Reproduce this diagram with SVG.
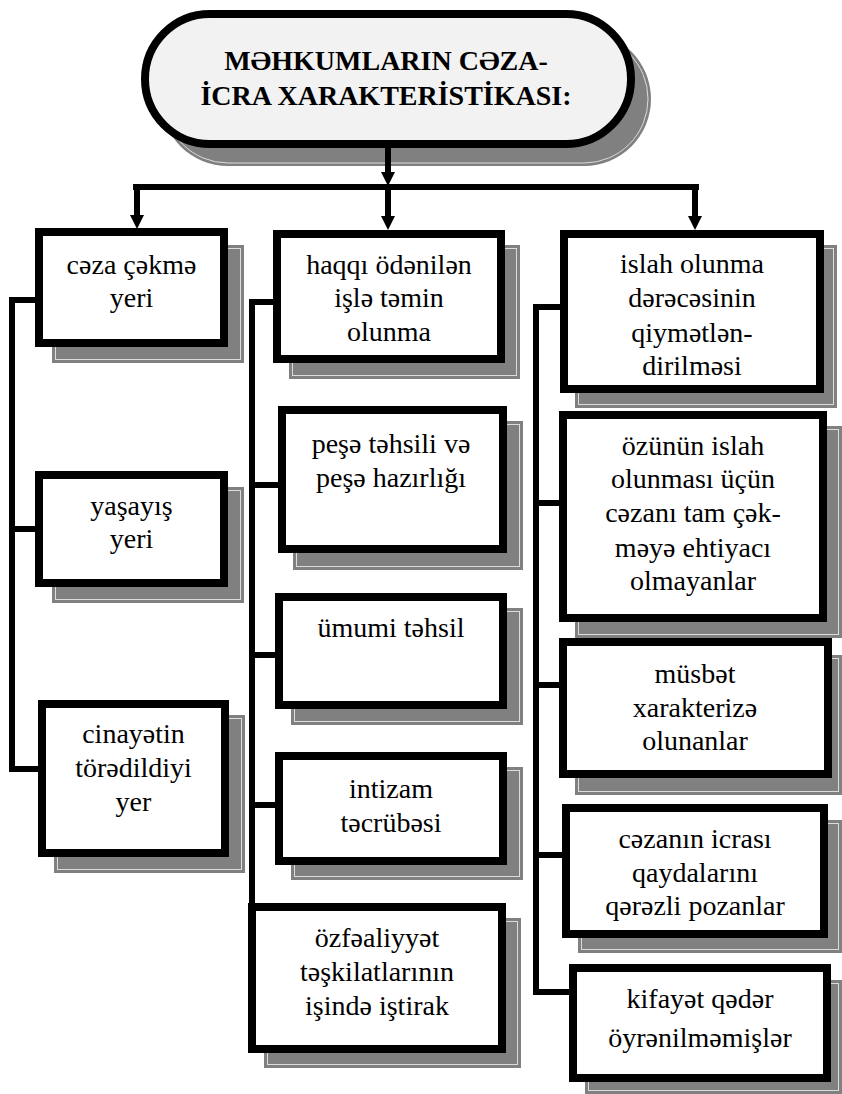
<svg xmlns="http://www.w3.org/2000/svg" width="842" height="1094" viewBox="0 0 842 1094">
<defs>
<style>
.box{fill:#fff;stroke:#000;stroke-width:8}
.sh{fill:#808080}
.shl{fill:none;stroke:#dcdcdc;stroke-width:1}
.t{font-family:"Liberation Serif","DejaVu Serif",serif;font-size:28px;text-anchor:middle;fill:#000}
.tt{font-family:"Liberation Serif","DejaVu Serif",serif;font-size:28px;font-weight:bold;text-anchor:middle;fill:#000}
.c{stroke:#000;stroke-width:6;fill:none}
</style>
<marker id="ah" viewBox="0 0 14 14" refX="2" refY="7" markerWidth="14" markerHeight="14" markerUnits="userSpaceOnUse" orient="auto">
<path d="M0,0 L14,7 L0,14 z" fill="#000"/>
</marker>
</defs>
<rect width="842" height="1094" fill="#fff"/>

<g id="title">
<rect x="161" y="32" width="490" height="134" rx="67" class="sh"/>
<rect x="164" y="35" width="484" height="128" rx="64" class="shl"/>
<rect x="145" y="14" width="486" height="130" rx="65" fill="#f2f2f2" stroke="#000" stroke-width="8"/>
<text class="tt" x="386" y="70">MƏHKUMLARIN CƏZA-</text>
<text class="tt" x="386" y="105">İCRA XARAKTERİSTİKASI:</text>
</g>

<g id="connectors">
<line class="c" x1="388" y1="148" x2="388" y2="174" marker-end="url(#ah)"/>
<line class="c" x1="133" y1="187" x2="699" y2="187"/>
<line class="c" x1="137" y1="187" x2="137" y2="217" marker-end="url(#ah)"/>
<line class="c" x1="388" y1="187" x2="388" y2="218" marker-end="url(#ah)"/>
<line class="c" x1="695" y1="187" x2="695" y2="218" marker-end="url(#ah)"/>
<path class="c" d="M37,300 H12 V769 H40 M12,529 H37"/>
<path class="c" d="M275,302 H252 V905 M252,485 H280 M252,655 H277 M252,805 H277"/>
<path class="c" d="M562,307 H536 V992 H571 M536,503 H561 M536,685 H561 M536,855 H564"/>
</g>

<g id="n-caza-cekme-yeri">
<rect x="52" y="245" width="192" height="118" class="sh"/><rect x="55.5" y="248.5" width="185" height="111" class="shl"/>
<rect x="39" y="232" width="185" height="111" class="box"/>
<text class="t" x="131.5" y="274">cəza çəkmə</text>
<text class="t" x="131.5" y="307">yeri</text>
</g>

<g id="n-yasayis-yeri">
<rect x="52" y="487" width="192" height="116" class="sh"/><rect x="55.5" y="490.5" width="185" height="109" class="shl"/>
<rect x="39" y="475" width="185" height="108" class="box"/>
<text class="t" x="131.5" y="515">yaşayış</text>
<text class="t" x="131.5" y="548">yeri</text>
</g>

<g id="n-cinayetin">
<rect x="54" y="715" width="191" height="158" class="sh"/><rect x="57.5" y="718.5" width="184" height="151" class="shl"/>
<rect x="42" y="704" width="183" height="149" class="box"/>
<text class="t" x="133.5" y="743">cinayətin</text>
<text class="t" x="133.5" y="777">törədildiyi</text>
<text class="t" x="133.5" y="811">yer</text>
</g>

<g id="n-haqqi">
<rect x="289" y="245" width="231" height="134" class="sh"/><rect x="292.5" y="248.5" width="224" height="127" class="shl"/>
<rect x="277" y="234" width="224" height="125" class="box"/>
<text class="t" x="389" y="274">haqqı ödənilən</text>
<text class="t" x="389" y="307">işlə təmin</text>
<text class="t" x="389" y="341">olunma</text>
</g>

<g id="n-pese">
<rect x="293" y="421" width="230" height="149" class="sh"/><rect x="296.5" y="424.5" width="223" height="142" class="shl"/>
<rect x="282" y="410" width="221" height="139" class="box"/>
<text class="t" x="391" y="453">peşə təhsili və</text>
<text class="t" x="391" y="487">peşə hazırlığı</text>
</g>

<g id="n-umumi">
<rect x="291" y="608" width="232" height="117" class="sh"/><rect x="294.5" y="611.5" width="225" height="110" class="shl"/>
<rect x="279" y="597" width="224" height="108" class="box"/>
<text class="t" x="391" y="637">ümumi təhsil</text>
</g>

<g id="n-intizam">
<rect x="291" y="767" width="232" height="113" class="sh"/><rect x="294.5" y="770.5" width="225" height="106" class="shl"/>
<rect x="279" y="756" width="224" height="105" class="box"/>
<text class="t" x="391" y="798">intizam</text>
<text class="t" x="391" y="832">təcrübəsi</text>
</g>

<g id="n-ozfealiyyet">
<rect x="264" y="918" width="257" height="150" class="sh"/><rect x="267.5" y="921.5" width="250" height="143" class="shl"/>
<rect x="252" y="907" width="250" height="142" class="box"/>
<text class="t" x="377" y="947">özfəaliyyət</text>
<text class="t" x="377" y="981">təşkilatlarının</text>
<text class="t" x="377" y="1015">işində iştirak</text>
</g>

<g id="n-islah">
<rect x="575" y="245" width="262" height="163" class="sh"/><rect x="578.5" y="248.5" width="255" height="156" class="shl"/>
<rect x="564" y="234" width="256" height="155" class="box"/>
<text class="t" x="692" y="273">islah olunma</text>
<text class="t" x="692" y="307">dərəcəsinin</text>
<text class="t" x="692" y="342">qiymətlən-</text>
<text class="t" x="692" y="375">dirilməsi</text>
</g>

<g id="n-ozunun">
<rect x="575" y="426" width="267" height="212" class="sh"/><rect x="578.5" y="429.5" width="260" height="205" class="shl"/>
<rect x="563" y="415" width="260" height="203" class="box"/>
<text class="t" x="693" y="455">özünün islah</text>
<text class="t" x="693" y="488">olunması üçün</text>
<text class="t" x="693" y="522">cəzanı tam çək-</text>
<text class="t" x="693" y="557">məyə ehtiyacı</text>
<text class="t" x="693" y="590">olmayanlar</text>
</g>

<g id="n-musbet">
<rect x="575" y="655" width="267" height="140" class="sh"/><rect x="578.5" y="658.5" width="260" height="133" class="shl"/>
<rect x="563" y="642" width="265" height="132" class="box"/>
<text class="t" x="695" y="683">müsbət</text>
<text class="t" x="695" y="717">xarakterizə</text>
<text class="t" x="695" y="750">olunanlar</text>
</g>

<g id="n-cezanin">
<rect x="578" y="820" width="264" height="133" class="sh"/><rect x="581.5" y="823.5" width="257" height="126" class="shl"/>
<rect x="566" y="808" width="258" height="126" class="box"/>
<text class="t" x="695" y="848">cəzanın icrası</text>
<text class="t" x="695" y="882">qaydalarını</text>
<text class="t" x="695" y="915">qərəzli pozanlar</text>
</g>

<g id="n-kifayet">
<rect x="585" y="980" width="257" height="114" class="sh"/><rect x="588.5" y="983.5" width="250" height="107" class="shl"/>
<rect x="573" y="968" width="254" height="110" class="box"/>
<text class="t" x="700" y="1008">kifayət qədər</text>
<text class="t" x="700" y="1047">öyrənilməmişlər</text>
</g>
</svg>
